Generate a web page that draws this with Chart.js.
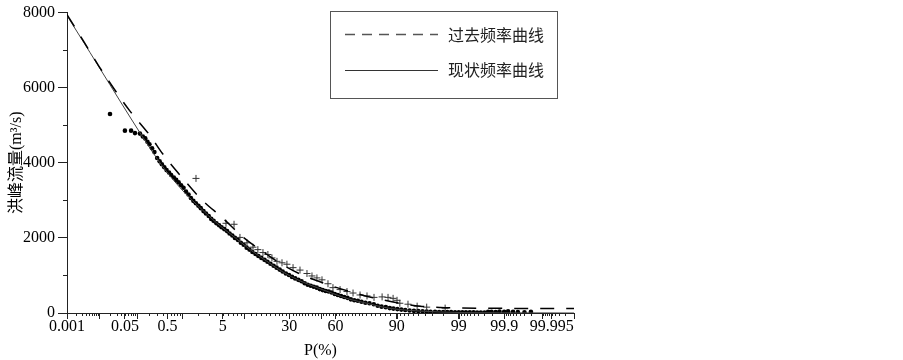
<!DOCTYPE html>
<html>
<head>
<meta charset="utf-8">
<script src="https://cdn.jsdelivr.net/npm/chart.js@4"></script>
<style>
  html, body { margin: 0; padding: 0; background: #fff; }
</style>
</head>
<body>
<canvas id="chart" width="903" height="360"></canvas>
<script>
// frequency curves on probability paper: P in %, Q in m3/s

const xTickLabels = ["0.001", "0.05", "0.5", "5", "30", "60", "90", "99", "99.9", "99.995"];
const yTickValues = [0, 2000, 4000, 6000, 8000];
const legendLabels = ["过去频率曲线", "现状频率曲线"];

// past frequency curve (dashed)
const pastCurveP = [0.001, 0.00346, 0.0097, 0.0256, 0.0675, 0.206, 0.40, 0.99, 2.22, 4.88, 9.9, 18.4, 24.8, 36.5, 49.6, 62.9, 74.7, 84.2, 90.9, 95.3, 97.8, 99.05, 99.87, 99.999];
const pastCurveQ = [7947, 7220, 6570, 5973, 5376, 4727, 4233, 3610, 3038, 2545, 2000, 1558, 1324, 1039, 831, 649, 493, 364, 260, 182, 148, 135, 125, 120];

// present frequency curve (solid)
const nowCurveP = [0.001, 0.0053, 0.0199, 0.0675, 0.206, 0.445, 1.13, 2.13, 4.08, 7.05, 11.8, 18.4, 26.4, 36.5, 47.6, 58.3, 69.0, 78.3, 85.3, 90.9, 95.3, 97.8, 99.05, 99.87, 99.999];
const nowCurveQ = [7920, 6934, 6077, 5220, 4389, 3818, 3194, 2805, 2389, 2052, 1688, 1376, 1091, 857, 675, 519, 364, 260, 156, 91, 52, 26, 13, 5, 0];

// past observed floods (+)
const pastObsP = [1.81, 5.59, 7.29, 8.77, 10.8, 12.8, 14.6, 16.65, 18.8, 20.7, 23.2, 25.85, 28.6, 32.2, 36.5, 41.0, 44.3, 47.6, 51.0, 55.0, 58.3, 62.9, 67.2, 70.8, 74.7, 78.3, 81.6, 85.0, 87.2, 88.9, 90.1, 90.9, 92.95, 94.8, 96.3, 98.2];
const pastObsQ = [3584, 2389, 2363, 2013, 1870, 1753, 1688, 1610, 1558, 1467, 1376, 1337, 1299, 1208, 1143, 1052, 987, 935, 883, 779, 675, 623, 571, 532, 480, 454, 416, 429, 416, 390, 338, 260, 234, 182, 156, 130];

// present observed floods (dots)
const nowObsP = [0.0199, 0.050, 0.072, 0.090, 0.119, 0.14, 0.16, 0.18, 0.2, 0.23, 0.26, 0.3, 0.34, 0.38, 0.43, 0.48, 0.54, 0.6, 0.68, 0.76, 0.85, 0.95, 1.06, 1.18, 1.32, 1.46, 1.62, 1.8, 2.0, 2.2, 2.45, 2.7, 3.0, 3.3, 3.6, 4.0, 4.4, 4.8, 5.3, 5.8, 6.3, 6.9, 7.5, 8.2, 9.0, 9.8, 10.7, 11.6, 12.6, 13.7, 14.8, 16.0, 17.3, 18.6, 20.0, 21.5, 23.0, 24.6, 26.2, 28.0, 29.8, 31.6, 33.5, 35.5, 37.5, 39.5, 41.5, 43.5, 45.5, 47.5, 49.5, 51.5, 53.5, 55.5, 57.5, 59.5, 61.5, 63.5, 65.5, 67.5, 69.5, 71.5, 73.5, 75.5, 77.5, 79.5, 81.5, 83.2, 84.8, 86.4, 87.8, 89.0, 90.2, 91.3, 92.3, 93.3, 94.2, 95.0, 95.7, 96.3, 96.8, 97.3, 97.7, 98.05, 98.35, 98.6, 98.82, 99.0, 99.15, 99.28, 99.4, 99.5, 99.58, 99.65, 99.71, 99.76, 99.8, 99.84, 99.87, 99.9, 99.92, 99.94, 99.955, 99.97, 99.98];
const nowObsQ = [5298, 4856, 4856, 4791, 4778, 4701, 4650, 4560, 4493, 4389, 4285, 4129, 4038, 3960, 3883, 3805, 3740, 3675, 3610, 3545, 3480, 3402, 3337, 3233, 3155, 3064, 2987, 2922, 2857, 2792, 2714, 2649, 2584, 2506, 2454, 2389, 2337, 2285, 2233, 2181, 2117, 2065, 2000, 1948, 1870, 1818, 1740, 1688, 1623, 1571, 1519, 1467, 1415, 1363, 1311, 1260, 1208, 1156, 1104, 1052, 1013, 961, 922, 883, 844, 792, 753, 727, 701, 675, 636, 610, 584, 571, 545, 506, 480, 454, 428, 403, 364, 338, 325, 299, 273, 260, 234, 195, 169, 156, 130, 117, 104, 91, 78, 65, 57, 52, 47, 39, 34, 30, 28, 26, 24, 22, 20, 20, 18, 18, 16, 16, 15, 15, 14, 30, 35, 28, 40, 35, 45, 30, 25, 20, 30];

// inverse normal cdf (Acklam), used to put P on probability paper
function probit(p) {
  const a = [-3.969683028665376e+01, 2.209460984245205e+02, -2.759285104469687e+02, 1.383577518672690e+02, -3.066479806614716e+01, 2.506628277459239e+00];
  const b = [-5.447609879822406e+01, 1.615858368580409e+02, -1.556989798598866e+02, 6.680131188771972e+01, -1.328068155288572e+01];
  const c = [-7.784894002430293e-03, -3.223964580411365e-01, -2.400758277161838e+00, -2.549732539343734e+00, 4.374664141464968e+00, 2.938163982698783e+00];
  const d = [7.784695709041462e-03, 3.224671290700398e-01, 2.445134137142996e+00, 3.754408661907416e+00];
  const pl = 0.02425;
  let q, r;
  if (p < pl) {
    q = Math.sqrt(-2 * Math.log(p));
    return (((((c[0] * q + c[1]) * q + c[2]) * q + c[3]) * q + c[4]) * q + c[5]) / ((((d[0] * q + d[1]) * q + d[2]) * q + d[3]) * q + 1);
  }
  if (p > 1 - pl) {
    q = Math.sqrt(-2 * Math.log(1 - p));
    return -(((((c[0] * q + c[1]) * q + c[2]) * q + c[3]) * q + c[4]) * q + c[5]) / ((((d[0] * q + d[1]) * q + d[2]) * q + d[3]) * q + 1);
  }
  q = p - 0.5;
  r = q * q;
  return (((((a[0] * r + a[1]) * r + a[2]) * r + a[3]) * r + a[4]) * r + a[5]) * q / (((((b[0] * r + b[1]) * r + b[2]) * r + b[3]) * r + b[4]) * r + 1);
}
const zOf = (pct) => probit(pct / 100);
const toPoints = (P, Q) => P.map((p, i) => ({ x: zOf(p), y: Q[i] }));

// minor ticks of the probability axis
const minorP = [];
[0.001, 0.01, 0.1, 1].forEach((dec) => {
  for (let k = 1; k <= 9; k++) minorP.push(+(k * dec).toPrecision(3));
});
for (let v = 10; v <= 90; v += 2) minorP.push(v);
[1, 0.1, 0.01, 0.001].forEach((dec) => {
  for (let k = 9; k >= 1; k--) minorP.push(+(100 - k * dec).toPrecision(8));
});
const longP = [0.001, 0.01, 0.1, 1, 10, 50, 90, 99, 99.9, 99.99, 99.999];
const minorQ = [1000, 3000, 5000, 7000];

const AXIS = "#222";
const SERIF = "'Liberation Serif', 'Noto Sans CJK SC', serif";
const CJK = "'Noto Sans CJK SC', sans-serif";

const extras = {
  id: "extras",
  afterDraw(chart) {
    const { ctx } = chart;
    const x = chart.scales.x;
    const y = chart.scales.y;
    ctx.save();
    ctx.strokeStyle = AXIS;
    ctx.lineWidth = 1;
    ctx.beginPath();
    minorP.forEach((p) => {
      const px = Math.round(x.getPixelForValue(zOf(p))) + 0.5;
      const len = longP.includes(p) ? 6 : 3;
      ctx.moveTo(px, y.bottom);
      ctx.lineTo(px, y.bottom + len);
    });
    const endPx = Math.round(x.right) + 0.5;
    ctx.moveTo(endPx, y.bottom);
    ctx.lineTo(endPx, y.bottom + 6);
    minorQ.forEach((q) => {
      const py = Math.round(y.getPixelForValue(q)) + 0.5;
      ctx.moveTo(x.left - 4, py);
      ctx.lineTo(x.left, py);
    });
    ctx.stroke();

    // legend box
    const bx = 330.5, by = 11.5, bw = 227, bh = 87;
    ctx.strokeStyle = "#555";
    ctx.strokeRect(bx, by, bw, bh);
    ctx.lineWidth = 1.4;
    ctx.strokeStyle = "#555";
    ctx.setLineDash([10, 7]);
    ctx.beginPath();
    ctx.moveTo(345, 34.5);
    ctx.lineTo(438, 34.5);
    ctx.stroke();
    ctx.setLineDash([]);
    ctx.strokeStyle = "#333";
    ctx.lineWidth = 1;
    ctx.beginPath();
    ctx.moveTo(345, 70.5);
    ctx.lineTo(438, 70.5);
    ctx.stroke();
    ctx.fillStyle = "#222";
    ctx.font = "16px " + CJK;
    ctx.textBaseline = "middle";
    ctx.fillText(legendLabels[0], 448, 35);
    ctx.fillText(legendLabels[1], 448, 70);
    ctx.restore();
  }
};

Chart.defaults.font.family = SERIF;
Chart.defaults.color = "#000";

new Chart(document.getElementById("chart"), {
  type: "scatter",
  data: {
    datasets: [
      {
        label: legendLabels[0],
        data: toPoints(pastCurveP, pastCurveQ),
        showLine: true,
        borderColor: "#000",
        borderWidth: 1.5,
        borderDash: [14, 12],
        pointRadius: 0,
        cubicInterpolationMode: "monotone"
      },
      {
        label: legendLabels[1],
        data: toPoints(nowCurveP, nowCurveQ),
        showLine: true,
        borderColor: "#444",
        borderWidth: 1,
        pointRadius: 0,
        cubicInterpolationMode: "monotone"
      },
      {
        label: "past observed",
        data: toPoints(pastObsP, pastObsQ),
        pointStyle: "cross",
        pointRadius: 3.5,
        borderColor: "#333",
        borderWidth: 1
      },
      {
        label: "present observed",
        data: toPoints(nowObsP, nowObsQ),
        pointStyle: "circle",
        pointRadius: 2.3,
        backgroundColor: "#000",
        borderWidth: 0
      }
    ]
  },
  options: {
    responsive: false,
    animation: false,
    devicePixelRatio: 1,
    layout: { padding: { top: 5, right: 329, left: 0, bottom: 0 }, autoPadding: false },
    plugins: { legend: { display: false }, tooltip: { enabled: false } },
    scales: {
      x: {
        type: "linear",
        min: zOf(0.001),
        max: zOf(99.999),
        bounds: "data",
        grid: { drawOnChartArea: false, drawTicks: true, tickLength: 6, tickColor: AXIS },
        border: { color: AXIS, width: 1 },
        ticks: {
          autoSkip: false,
          maxRotation: 0,
          padding: -2,
          font: { size: 16 },
          callback: (v, i) => xTickLabels[i]
        },
        afterBuildTicks: (scale) => {
          scale.ticks = xTickLabels.map((s) => ({ value: zOf(parseFloat(s)) }));
        },
        afterFit: (scale) => { scale.height = 47; },
        title: { display: true, text: "P(%)", font: { size: 16 }, padding: { top: 0, bottom: 0 } }
      },
      y: {
        min: 0,
        max: 8000,
        grid: { drawOnChartArea: false, drawTicks: true, tickLength: 9, tickColor: AXIS },
        border: { color: AXIS, width: 1 },
        ticks: { padding: 3, font: { size: 16 }, callback: (v) => String(v) },
        afterBuildTicks: (scale) => {
          scale.ticks = yTickValues.map((v) => ({ value: v }));
        },
        afterFit: (scale) => { scale.width = 67; },
        title: { display: true, text: "洪峰流量(m³/s)", font: { size: 16 }, padding: { top: 7, bottom: 0 } }
      }
    }
  },
  plugins: [extras]
});
</script>
</body>
</html>
